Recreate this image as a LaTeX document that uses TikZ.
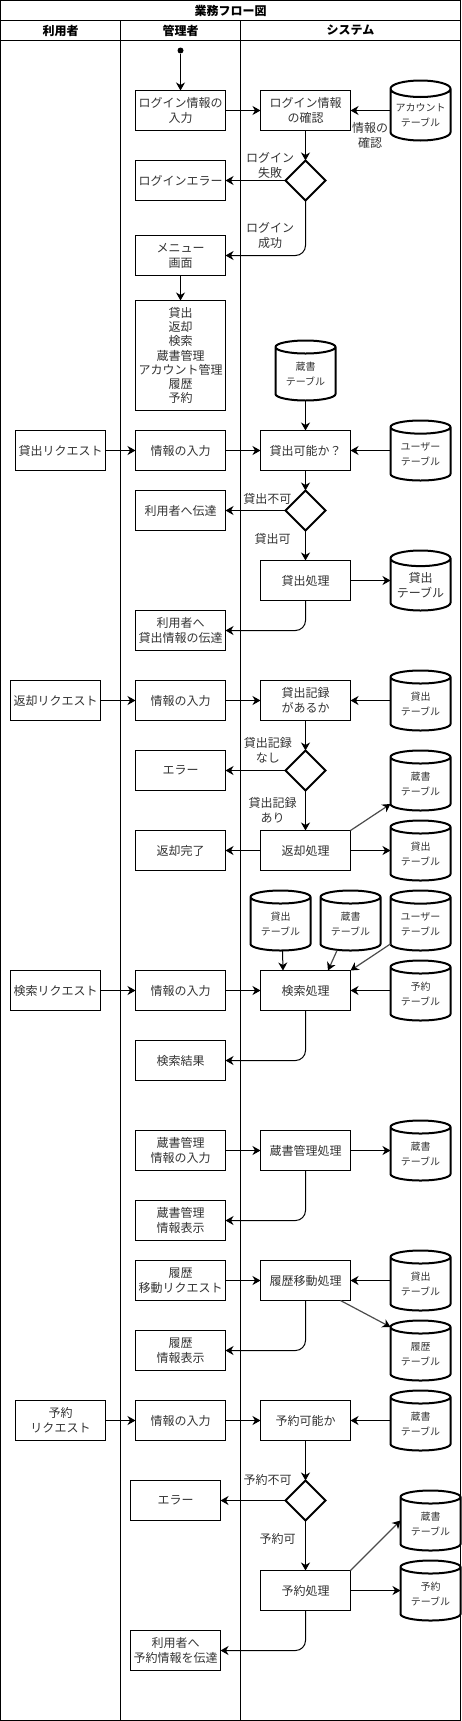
\documentclass[tikz,border=0pt]{standalone}
\usepackage{fontspec}
\setmainfont{Noto Sans CJK JP}
\usetikzlibrary{shapes.geometric, arrows.meta}

\begin{document}
\begin{tikzpicture}[
        x=1pt, y=-1pt,
        font=\fontsize{12}{15}\selectfont,
        lanehead/.style={draw, line width=1pt, outer sep=0pt, inner sep=0pt,
                    minimum height=20pt, font=\fontsize{12}{15}\selectfont\bfseries},
        box/.style={draw, line width=1pt, outer sep=0pt, inner sep=0pt, text=black!80,
                    minimum width=90pt, minimum height=40pt, align=center},
        decision/.style={diamond, draw, line width=2pt, outer sep=0pt, inner sep=0pt,
                    minimum width=40pt, minimum height=40pt},
        dbtable/.style={cylinder, shape border rotate=90, aspect=0.33, draw, line width=2pt,
                    outer sep=0pt, inner sep=0pt, minimum width=60pt, minimum height=60pt,
                    anchor=shape center, align=center, text=black!80,
                    font=\fontsize{10}{15}\selectfont,
                    execute at begin node={\rule{0pt}{1.8em}}},
        lbl/.style={align=center, inner sep=0pt, text=black!80},
        arrow/.style={-{Stealth[length=8pt, width=9pt, inset=2.5pt, color=black]}, line width=1pt},
        diag/.style={arrow, draw=black!70, line width=1.2pt}
    ]
        \useasboundingbox (0,0) rectangle (462,1721);

        % Swimlane frame
        \draw[line width=1pt] (0.5,40.5) rectangle (120.5,1720.5);
        \draw[line width=1pt] (120.5,40.5) rectangle (240.5,1720.5);
        \draw[line width=1pt] (240.5,40.5) rectangle (460.5,1720.5);
        \node[lanehead, minimum width=460pt] (title) at (230.5,10.5) {業務フロー図};
        \node[lanehead, minimum width=120pt] (user) at (60.5,30.5) {利用者};
        \node[lanehead, minimum width=120pt] (admin) at (180.5,30.5) {管理者};
        \node[lanehead, minimum width=220pt] (system) at (350.5,30.5) {システム};

        % Login
        \node[circle, fill, inner sep=0pt, minimum size=6pt] (start) at (180.5,50.5) {};
        \node[box] (logininput) at (180.5,110.5) {ログイン情報の\\入力};
        \node[box] (logincheck) at (305.5,110.5) {ログイン情報\\の確認};
        \node[dbtable] (accounttb) at (420.5,110.5) {アカウント\\テーブル};
        \node[decision] (logindec) at (305.5,180.5) {};
        \node[box] (loginerr) at (180.5,180.5) {ログインエラー};
        \node[box] (menu) at (180.5,255.5) {メニュー\\画面};
        \node[box, minimum height=110pt, font=\fontsize{12}{14.2}\selectfont] (funcs) at (180.5,355.5)
            {貸出\\返却\\検索\\蔵書管理\\アカウント管理\\履歴\\予約};

        \draw[arrow] (start) -- (logininput);
        \draw[arrow] (logininput) -- (logincheck);
        \draw[arrow] (accounttb.west |- logincheck.east) -- (logincheck.east);
        \draw[arrow] (logincheck) -- (logindec);
        \draw[arrow] (logindec) -- (loginerr);
        \draw[arrow, rounded corners=10pt] (logindec.south) |- (menu.east);
        \draw[arrow] (menu) -- (funcs);
        \node[lbl] (lblcheck) at (370,135) {情報の\\確認};
        \node[lbl] (lblfail) at (270,165) {ログイン\\失敗};
        \node[lbl] (lblok) at (270,235.3) {ログイン\\成功};

        % Lending
        \node[dbtable] (booktb) at (305.5,370.5) {蔵書\\テーブル};
        \node[box] (lendreq) at (60.5,450.5) {貸出リクエスト};
        \node[box] (lendinput) at (180.5,450.5) {情報の入力};
        \node[box] (lendcheck) at (305.5,450.5) {貸出可能か？};
        \node[dbtable] (usertb) at (420.5,450.5) {ユーザー\\テーブル};
        \node[decision] (lenddec) at (305.5,510.5) {};
        \node[box] (lendng) at (180.5,510.5) {利用者へ伝達};
        \node[box] (lendproc) at (305.5,580.5) {貸出処理};
        \node[dbtable, font=\fontsize{12}{15}\selectfont] (lendtb) at (420.5,580.5) {貸出\\テーブル};
        \node[box] (lendinfo) at (180.5,630.5) {利用者へ\\貸出情報の伝達};

        \draw[arrow] (booktb.south) -- (lendcheck);
        \draw[arrow] (lendreq) -- (lendinput);
        \draw[arrow] (lendinput) -- (lendcheck);
        \draw[arrow] (usertb.west |- lendcheck.east) -- (lendcheck.east);
        \draw[arrow] (lendcheck) -- (lenddec);
        \draw[arrow] (lenddec) -- (lendng);
        \draw[arrow] (lenddec) -- (lendproc);
        \draw[arrow] (lendproc.east) -- (lendproc.east -| lendtb.west);
        \draw[arrow, rounded corners=10pt] (lendproc.south) |- (lendinfo.east);
        \node[lbl] (lblng) at (267.3,499.3) {貸出不可};
        \node[lbl] (lblyes) at (272.5,539.3) {貸出可};

        % Return
        \node[box] (retreq) at (55.5,700.5) {返却リクエスト};
        \node[box] (retinput) at (180.5,700.5) {情報の入力};
        \node[box] (retcheck) at (305.5,700.5) {貸出記録\\があるか};
        \node[dbtable] (retlendtb) at (420.5,700.5) {貸出\\テーブル};
        \node[decision] (retdec) at (305.5,770.5) {};
        \node[box] (reterr) at (180.5,770.5) {エラー};
        \node[dbtable] (retbooktb) at (420.5,780.5) {蔵書\\テーブル};
        \node[box] (retproc) at (305.5,850.5) {返却処理};
        \node[box] (retdone) at (180.5,850.5) {返却完了};
        \node[dbtable] (retlendtbb) at (420.5,850.5) {貸出\\テーブル};

        \draw[arrow] (retreq) -- (retinput);
        \draw[arrow] (retinput) -- (retcheck);
        \draw[arrow] (retlendtb.west |- retcheck.east) -- (retcheck.east);
        \draw[arrow] (retcheck) -- (retdec);
        \draw[arrow] (retdec) -- (reterr);
        \draw[arrow] (retdec) -- (retproc);
        \draw[diag] (retproc.north east) -- (retbooktb.after bottom);
        \draw[arrow] (retproc.east) -- (retproc.east -| retlendtbb.west);
        \draw[arrow] (retproc) -- (retdone);
        \node[lbl] (lblnone) at (267.8,749.8) {貸出記録\\なし};
        \node[lbl] (lblsome) at (272.7,810) {貸出記録\\あり};

        % Search
        \node[dbtable] (srchlendtb) at (280.5,920.5) {貸出\\テーブル};
        \node[dbtable] (srchbooktb) at (350.5,920.5) {蔵書\\テーブル};
        \node[dbtable] (srchusertb) at (420.5,920.5) {ユーザー\\テーブル};
        \node[box] (srchreq) at (55.5,990.5) {検索リクエスト};
        \node[box] (srchinput) at (180.5,990.5) {情報の入力};
        \node[box] (srchproc) at (305.5,990.5) {検索処理};
        \node[dbtable] (srchrsvtb) at (420.5,990.5) {予約\\テーブル};
        \node[box] (srchres) at (180.5,1060.5) {検索結果};

        \draw[arrow] ([xshift=2pt]srchlendtb.south) -- ([xshift=-22.5pt]srchproc.north);
        \draw[diag] ([xshift=-13.5pt]srchbooktb.south) -- ([xshift=22.5pt]srchproc.north);
        \draw[diag] (srchusertb.after bottom) -- (srchproc.north east);
        \draw[arrow] (srchreq) -- (srchinput);
        \draw[arrow] (srchinput) -- (srchproc);
        \draw[arrow] (srchrsvtb.west |- srchproc.east) -- (srchproc.east);
        \draw[arrow, rounded corners=10pt] (srchproc.south) |- (srchres.east);

        % Book management
        \node[box] (mgmtinput) at (180.5,1150.5) {蔵書管理\\情報の入力};
        \node[box] (mgmtproc) at (305.5,1150.5) {蔵書管理処理};
        \node[dbtable] (mgmttb) at (420.5,1150.5) {蔵書\\テーブル};
        \node[box] (mgmtshow) at (180.5,1220.5) {蔵書管理\\情報表示};

        \draw[arrow] (mgmtinput) -- (mgmtproc);
        \draw[arrow] (mgmtproc.east) -- (mgmtproc.east -| mgmttb.west);
        \draw[arrow, rounded corners=10pt] (mgmtproc.south) |- (mgmtshow.east);

        % History
        \node[box] (histreq) at (180.5,1280.5) {履歴\\移動リクエスト};
        \node[box] (histproc) at (305.5,1280.5) {履歴移動処理};
        \node[dbtable] (histlendtb) at (420.5,1280.5) {貸出\\テーブル};
        \node[dbtable] (histtb) at (420.5,1350.5) {履歴\\テーブル};
        \node[box] (histshow) at (180.5,1350.5) {履歴\\情報表示};

        \draw[arrow] (histreq) -- (histproc);
        \draw[arrow] (histlendtb.west |- histproc.east) -- (histproc.east);
        \draw[diag] ([xshift=-10pt]histproc.south east) -- (histtb.before top);
        \draw[arrow, rounded corners=10pt] (histproc.south) |- (histshow.east);

        % Reservation
        \node[box] (rsvreq) at (60.5,1420.5) {予約\\リクエスト};
        \node[box] (rsvinput) at (180.5,1420.5) {情報の入力};
        \node[box] (rsvcheck) at (305.5,1420.5) {予約可能か};
        \node[dbtable] (rsvbooktb) at (420.5,1420.5) {蔵書\\テーブル};
        \node[decision] (rsvdec) at (305.5,1500.5) {};
        \node[box] (rsverr) at (175.5,1500.5) {エラー};
        \node[dbtable] (rsvbooktbb) at (430.5,1520.5) {蔵書\\テーブル};
        \node[box] (rsvproc) at (305.5,1590.5) {予約処理};
        \node[dbtable] (rsvtb) at (430.5,1590.5) {予約\\テーブル};
        \node[box] (rsvinfo) at (175.5,1650.5) {利用者へ\\予約情報を伝達};

        \draw[arrow] (rsvreq) -- (rsvinput);
        \draw[arrow] (rsvinput) -- (rsvcheck);
        \draw[arrow] (rsvbooktb.west |- rsvcheck.east) -- (rsvcheck.east);
        \draw[arrow] (rsvcheck) -- (rsvdec);
        \draw[arrow] (rsvdec) -- (rsverr);
        \draw[arrow] (rsvdec) -- (rsvproc);
        \draw[diag] (rsvproc.north east) -- (rsvbooktbb.west |- rsvbooktbb.shape center);
        \draw[arrow] (rsvproc.east) -- (rsvproc.east -| rsvtb.west);
        \draw[arrow, rounded corners=10pt] (rsvproc.south) |- (rsvinfo.east);
        \node[lbl] (lblrsvng) at (267.5,1479.7) {予約不可};
        \node[lbl] (lblrsvyes) at (277.5,1539.3) {予約可};
    \end{tikzpicture}
\end{document}
